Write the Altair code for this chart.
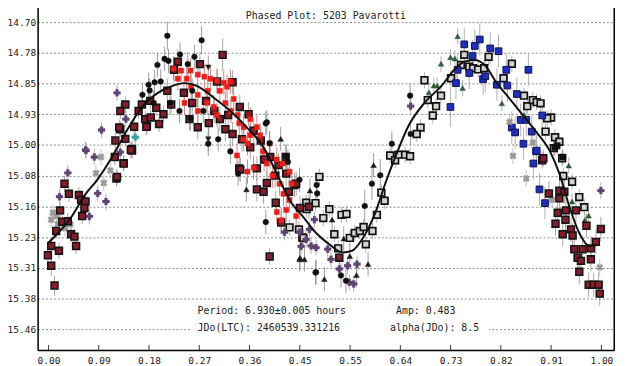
import altair as alt
import pandas as pd

TITLE = "Phased Plot: 5203 Pavarotti"
INFO_LEFT = ["Period: 6.930\u00b10.005 hours", "JDo(LTC): 2460539.331216"]
INFO_RIGHT = ["Amp: 0.483", "alpha(JDo): 8.5"]

X_TICKS = [0.0, 0.0909, 0.1818, 0.2727, 0.3636, 0.4545, 0.5455, 0.6364, 0.7273, 0.8182, 0.9091, 1.0]
Y_TICKS = [14.70, 14.776, 14.852, 14.928, 15.004, 15.080, 15.156, 15.232, 15.308, 15.384, 15.460]

# (phase, magnitude, error)
dark_red_sq = [
    (0.029, 15.100, 0.02), (0.037, 15.125, 0.02), (0.055, 15.128, 0.02), (0.059, 15.140, 0.02),
    (0.067, 15.144, 0.02), (0.065, 15.160, 0.02), (0.021, 15.166, 0.02), (0.061, 15.180, 0.02),
    (0.025, 15.194, 0.02), (0.035, 15.193, 0.02), (0.014, 15.217, 0.02), (0.041, 15.225, 0.02),
    (0.047, 15.231, 0.02), (0.050, 15.254, 0.02), (0.005, 15.254, 0.02), (0.019, 15.266, 0.02),
    (-0.001, 15.277, 0.02), (0.005, 15.303, 0.025), (0.011, 15.352, 0.025), (0.136, 15.049, 0.02),
    (0.123, 15.087, 0.02), (0.151, 15.018, 0.02), (0.120, 15.034, 0.02), (0.139, 14.904, 0.02),
    (0.130, 14.920, 0.02), (0.169, 14.904, 0.02), (0.184, 14.895, 0.02), (0.175, 14.940, 0.02),
    (0.178, 14.957, 0.02), (0.130, 14.965, 0.02), (0.139, 14.989, 0.02), (0.151, 15.014, 0.02),
    (0.121, 14.993, 0.02), (0.315, 14.781, 0.04), (0.234, 14.798, 0.03), (0.274, 14.804, 0.03),
    (0.227, 14.818, 0.03), (0.333, 14.849, 0.03), (0.305, 14.847, 0.03), (0.163, 14.920, 0.02),
    (0.195, 14.912, 0.02), (0.185, 14.936, 0.02), (0.208, 14.928, 0.02), (0.222, 14.904, 0.02),
    (0.200, 14.952, 0.02), (0.177, 14.959, 0.02), (0.155, 14.959, 0.02), (0.128, 14.961, 0.02),
    (0.149, 15.016, 0.02), (0.136, 15.050, 0.02), (0.124, 15.083, 0.02),
    (0.320, 14.965, 0.03), (0.333, 14.977, 0.03), (0.346, 14.910, 0.03), (0.362, 14.928, 0.03),
    (0.371, 14.969, 0.03), (0.384, 14.993, 0.03), (0.401, 15.034, 0.03), (0.416, 15.054, 0.03),
    (0.429, 15.034, 0.03), (0.345, 15.062, 0.03), (0.377, 15.062, 0.03), (0.430, 15.075, 0.03),
    (0.347, 15.065, 0.03), (0.377, 15.114, 0.03), (0.395, 15.098, 0.03), (0.445, 15.103, 0.03),
    (0.389, 15.120, 0.03), (0.411, 15.147, 0.03), (0.421, 15.196, 0.03), (0.448, 15.100, 0.03),
    (0.471, 15.157, 0.03), (0.400, 15.280, 0.02), (0.526, 15.283, 0.02),
    (0.215, 14.870, 0.03), (0.245, 14.875, 0.03), (0.260, 14.900, 0.03), (0.285, 14.895, 0.03),
    (0.300, 14.920, 0.03), (0.255, 14.940, 0.03), (0.270, 14.960, 0.03), (0.290, 14.950, 0.03),
    (0.310, 14.940, 0.03), (0.325, 14.930, 0.03), (0.350, 14.990, 0.03), (0.365, 15.010, 0.03),
    (0.390, 15.040, 0.03), (0.410, 15.080, 0.03), (0.435, 15.120, 0.03), (0.455, 15.160, 0.03),
    (0.893, 15.042, 0.02), (0.895, 15.037, 0.02), (0.905, 15.124, 0.03), (0.924, 15.117, 0.03),
    (0.933, 15.120, 0.03), (0.924, 15.136, 0.03), (0.954, 15.166, 0.03), (0.936, 15.166, 0.03),
    (0.921, 15.172, 0.03), (0.917, 15.199, 0.03), (0.935, 15.189, 0.03), (0.945, 15.213, 0.03),
    (0.930, 15.225, 0.03), (0.948, 15.228, 0.03), (0.973, 15.204, 0.03), (0.999, 15.212, 0.03),
    (0.990, 15.244, 0.03), (0.951, 15.262, 0.03), (0.966, 15.262, 0.03), (0.957, 15.283, 0.03),
    (0.963, 15.291, 0.03), (0.981, 15.287, 0.03), (0.960, 15.318, 0.03), (0.977, 15.350, 0.03),
    (0.986, 15.350, 0.03), (0.995, 15.350, 0.03), (0.997, 15.372, 0.03), (0.981, 15.260, 0.03),
]

bright_red = [
    (0.226, 14.815, 0.03), (0.240, 14.820, 0.03), (0.257, 14.820, 0.03), (0.270, 14.830, 0.03),
    (0.282, 14.835, 0.03), (0.293, 14.840, 0.03), (0.305, 14.845, 0.03), (0.317, 14.850, 0.03),
    (0.329, 14.847, 0.03), (0.323, 14.860, 0.03), (0.246, 14.900, 0.03), (0.258, 14.860, 0.03),
    (0.270, 14.880, 0.03), (0.287, 14.900, 0.03), (0.299, 14.910, 0.03), (0.305, 14.930, 0.03),
    (0.330, 14.920, 0.03), (0.342, 14.930, 0.03), (0.353, 14.960, 0.03), (0.365, 14.940, 0.03),
    (0.377, 14.960, 0.03), (0.383, 14.980, 0.03), (0.365, 14.980, 0.03), (0.353, 14.990, 0.03),
    (0.341, 15.030, 0.03), (0.388, 15.020, 0.03), (0.400, 15.000, 0.03), (0.413, 15.040, 0.03),
    (0.424, 15.050, 0.03), (0.436, 15.070, 0.03), (0.371, 15.060, 0.03), (0.360, 15.070, 0.03),
    (0.270, 14.920, 0.03), (0.288, 14.870, 0.03), (0.234, 14.840, 0.03), (0.250, 14.840, 0.03),
    (0.413, 15.170, 0.03), (0.421, 15.190, 0.03), (0.430, 15.165, 0.03), (0.436, 15.140, 0.03),
    (0.425, 15.125, 0.03), (0.448, 15.180, 0.03), (0.418, 15.100, 0.03), (0.395, 15.050, 0.03),
    (0.405, 15.080, 0.03), (0.440, 15.100, 0.03), (0.310, 14.870, 0.03), (0.320, 14.900, 0.03),
    (0.335, 14.890, 0.03), (0.345, 14.950, 0.03), (0.360, 15.000, 0.03),
]

black_circle = [
    (0.215, 14.734, 0.035), (0.277, 14.745, 0.035), (0.197, 14.806, 0.03), (0.238, 14.780, 0.03),
    (0.252, 14.804, 0.03), (0.264, 14.786, 0.03), (0.192, 14.849, 0.03), (0.183, 14.869, 0.03),
    (0.203, 14.847, 0.03), (0.237, 14.920, 0.03), (0.257, 14.938, 0.03), (0.289, 15.001, 0.03),
    (0.307, 14.990, 0.03), (0.329, 15.020, 0.03), (0.343, 15.075, 0.03), (0.393, 14.951, 0.03),
    (0.210, 14.791, 0.03), (0.217, 14.796, 0.03), (0.181, 14.855, 0.03), (0.393, 15.195, 0.03),
    (0.483, 15.320, 0.03), (0.485, 15.103, 0.03), (0.486, 15.124, 0.03), (0.395, 14.948, 0.03),
    (0.400, 15.000, 0.03), (0.430, 15.033, 0.03), (0.433, 15.046, 0.03), (0.454, 15.090, 0.03),
    (0.585, 15.100, 0.04), (0.572, 15.155, 0.04), (0.600, 15.079, 0.04), (0.484, 15.319, 0.03),
    (0.529, 15.327, 0.03), (0.538, 15.340, 0.03), (0.654, 14.882, 0.03), (0.655, 14.977, 0.03),
    (0.621, 15.001, 0.03), (0.170, 14.880, 0.03), (0.190, 14.900, 0.03), (0.260, 14.870, 0.03),
    (0.280, 14.920, 0.03), (0.220, 14.900, 0.03),
]

black_triangle = [
    (0.420, 14.989, 0.03), (0.473, 15.117, 0.03), (0.358, 15.114, 0.03), (0.454, 15.287, 0.03),
    (0.463, 15.287, 0.03), (0.588, 15.054, 0.03), (0.578, 15.299, 0.03), (0.513, 15.189, 0.03),
    (0.534, 15.236, 0.03), (0.499, 15.336, 0.03), (0.557, 15.326, 0.03), (0.545, 15.279, 0.03),
    (0.455, 15.283, 0.03),
]

black_tri_down = [(0.289, 14.812, 0.03), (0.289, 14.990, 0.03)]

purple_cross = [
    (0.124, 14.875, 0.02), (0.096, 14.967, 0.02), (0.067, 15.016, 0.02), (0.035, 15.073, 0.02),
    (0.020, 15.132, 0.02), (0.089, 15.124, 0.02), (0.104, 15.144, 0.02), (0.074, 15.181, 0.02),
    (0.083, 15.034, 0.02), (0.068, 15.018, 0.02), (0.130, 15.022, 0.02), (0.427, 15.220, 0.02),
    (0.457, 15.255, 0.02), (0.466, 15.238, 0.02), (0.472, 15.213, 0.02), (0.484, 15.258, 0.02),
    (0.505, 15.262, 0.02), (0.511, 15.287, 0.02), (0.541, 15.303, 0.02), (0.544, 15.344, 0.02),
    (0.552, 15.348, 0.02), (0.558, 15.299, 0.02), (0.526, 15.311, 0.02), (0.454, 15.220, 0.02),
    (0.475, 15.254, 0.02), (0.481, 15.189, 0.02), (0.999, 15.117, 0.02), (0.655, 14.908, 0.02),
    (0.140, 14.940, 0.02),
]

grey_star = [
    (0.005, 15.189, 0.02), (0.008, 15.172, 0.02), (0.100, 15.098, 0.02), (0.086, 15.074, 0.02),
    (0.095, 15.034, 0.02), (0.017, 15.200, 0.02), (0.112, 15.067, 0.02), (0.840, 15.031, 0.02),
    (0.834, 14.947, 0.02), (0.876, 14.998, 0.02), (0.864, 15.087, 0.02), (0.911, 15.140, 0.02),
    (0.997, 15.307, 0.02), (0.030, 15.210, 0.02), (0.040, 15.200, 0.02), (0.015, 15.180, 0.02),
]

teal_cross = [(0.157, 14.985, 0.02)]

open_square = [
    (0.436, 15.208, 0.02), (0.453, 15.213, 0.02), (0.459, 15.233, 0.02), (0.466, 15.147, 0.02),
    (0.490, 15.083, 0.02), (0.483, 15.148, 0.02), (0.467, 15.163, 0.02), (0.508, 15.163, 0.02),
    (0.530, 15.177, 0.02), (0.539, 15.175, 0.02), (0.497, 15.185, 0.02), (0.461, 15.234, 0.02),
    (0.517, 15.225, 0.02), (0.524, 15.260, 0.02), (0.545, 15.234, 0.02), (0.554, 15.222, 0.02),
    (0.563, 15.217, 0.02), (0.570, 15.207, 0.02), (0.586, 15.217, 0.02), (0.574, 15.250, 0.02),
    (0.594, 15.177, 0.02), (0.608, 15.142, 0.02), (0.602, 15.122, 0.02), (0.618, 15.030, 0.02),
    (0.627, 15.042, 0.02), (0.633, 15.028, 0.02), (0.645, 15.028, 0.02), (0.654, 15.032, 0.02),
    (0.680, 14.844, 0.02), (0.728, 14.839, 0.02), (0.710, 14.882, 0.02), (0.701, 14.908, 0.02),
    (0.695, 14.931, 0.02), (0.686, 14.893, 0.02), (0.673, 14.961, 0.02), (0.666, 14.977, 0.02),
    (0.752, 14.781, 0.02), (0.761, 14.810, 0.02), (0.768, 14.814, 0.02), (0.777, 14.817, 0.02),
    (0.788, 14.814, 0.02), (0.796, 14.786, 0.02), (0.746, 14.806, 0.02), (0.838, 14.803, 0.02),
    (0.823, 14.839, 0.02), (0.860, 14.882, 0.02), (0.866, 14.908, 0.02), (0.876, 14.893, 0.02),
    (0.883, 14.898, 0.02), (0.890, 14.901, 0.02), (0.909, 14.936, 0.02), (0.902, 14.938, 0.02),
    (0.899, 14.971, 0.02), (0.916, 14.985, 0.02), (0.924, 14.996, 0.02), (0.914, 15.012, 0.02),
    (0.929, 15.037, 0.02), (0.931, 15.081, 0.02), (0.947, 15.095, 0.02), (0.960, 15.133, 0.02),
    (0.969, 15.158, 0.02),
]

black_square = [(0.916, 15.010, 0.02), (0.920, 15.006, 0.02), (0.930, 15.034, 0.02)]

blue_square = [
    (0.752, 14.755, 0.04), (0.771, 14.759, 0.04), (0.780, 14.743, 0.04), (0.799, 14.765, 0.04),
    (0.767, 14.784, 0.04), (0.740, 14.818, 0.04), (0.737, 14.851, 0.04), (0.727, 14.910, 0.05),
    (0.761, 14.826, 0.04), (0.786, 14.841, 0.04), (0.814, 14.772, 0.04), (0.828, 14.818, 0.04),
    (0.868, 14.818, 0.04), (0.790, 14.834, 0.04), (0.811, 14.855, 0.04), (0.830, 14.857, 0.04),
    (0.847, 14.878, 0.04), (0.893, 14.931, 0.04), (0.854, 14.942, 0.04), (0.864, 14.942, 0.04),
    (0.838, 14.961, 0.04), (0.844, 14.973, 0.04), (0.874, 14.971, 0.04), (0.859, 15.001, 0.04),
    (0.882, 15.020, 0.04), (0.877, 15.050, 0.04), (0.888, 15.114, 0.04), (0.898, 15.148, 0.04),
    (0.883, 15.018, 0.04),
]

green_triangle = [
    (0.740, 14.735, 0.02), (0.727, 14.787, 0.02), (0.735, 14.790, 0.02), (0.710, 14.803, 0.02),
    (0.697, 14.857, 0.02), (0.703, 14.857, 0.02), (0.749, 14.863, 0.02), (0.688, 14.874, 0.02),
    (0.820, 14.901, 0.02), (0.941, 15.055, 0.02), (0.977, 15.179, 0.02), (0.947, 15.144, 0.02),
    (0.970, 15.190, 0.02), (0.860, 14.930, 0.02),
]

fit_phase = [0.000, 0.038, 0.068, 0.088, 0.115, 0.145, 0.168, 0.198, 0.222, 0.246, 0.270, 0.299,
             0.329, 0.359, 0.389, 0.413, 0.436, 0.460, 0.484, 0.508, 0.532, 0.549, 0.567, 0.591,
             0.609, 0.627, 0.651, 0.680, 0.710, 0.734, 0.752, 0.770, 0.788, 0.811, 0.835, 0.859,
             0.883, 0.907, 0.924, 0.942, 0.960, 0.978, 0.993]
fit_mag = [15.246, 15.189, 15.124, 15.091, 15.034, 14.961, 14.912, 14.875, 14.859, 14.851, 14.859, 14.887,
           14.920, 14.961, 15.010, 15.075, 15.140, 15.181, 15.222, 15.250, 15.270, 15.266, 15.238, 15.172,
           15.100, 15.035, 14.957, 14.900, 14.859, 14.818, 14.798, 14.794, 14.805, 14.851, 14.891, 14.932,
           14.973, 15.020, 15.075, 15.156, 15.222, 15.254, 15.252]

W, H = 584, 350
FONT = "DejaVu Sans Mono"

xs = alt.Scale(domain=[-0.0196, 1.0232], nice=False, zero=False)
ys = alt.Scale(domain=[14.656, 15.5113], nice=False, zero=False, reverse=True)

x_axis = alt.Axis(values=X_TICKS, format=".2f", ticks=False, grid=False, labelPadding=6,
                  labelFont=FONT, labelFontSize=9.6, labelColor="#222", labelFlush=False,
                  domainColor="#000", domainWidth=1.5, title=None)
y_axis = alt.Axis(values=Y_TICKS, format=".2f", grid=True, gridDash=[2, 2], gridColor="#8a8a8a",
                  gridWidth=1, ticks=False, labelPadding=2,
                  labelFont=FONT, labelFontSize=9.6, labelColor="#222",
                  domainColor="#000", domainWidth=1.5, title=None)


def X(f):
    return alt.X(f, type="quantitative", scale=xs, axis=x_axis)


def Y(f):
    return alt.Y(f, type="quantitative", scale=ys, axis=y_axis)


def frame(rows):
    df = pd.DataFrame(rows, columns=["phase", "mag", "err"])
    df["lo"] = df["mag"] - df["err"]
    df["hi"] = df["mag"] + df["err"]
    return df


series = [
    (open_square, dict(shape="square", fill="#d4d4d4", stroke="#111", strokeWidth=1.7, size=46), "#a8a8a8"),
    (blue_square, dict(shape="square", fill="#1f2fb8", stroke="#101050", strokeWidth=1, size=46), "#a8a8a8"),
    (green_triangle, dict(shape="triangle-up", fill="#2f5a3c", stroke="#2f5a3c", strokeWidth=0.5, size=32), "#a8a8a8"),
    (purple_cross, dict(shape="cross", fill="#5e4470", stroke="#5e4470", strokeWidth=0.3, size=50), "#a8a8a8"),
    (grey_star, dict(shape="cross", fill="#9a9a9a", stroke="#9a9a9a", strokeWidth=0.3, size=50, angle=45), "#b8b8b8"),
    (teal_cross, dict(shape="cross", fill="#3aa0a0", stroke="#3aa0a0", strokeWidth=0.3, size=50), "#a8a8a8"),
    (dark_red_sq, dict(shape="square", fill="#861d2b", stroke="#151515", strokeWidth=1.6, size=48), "#a89898"),
    (bright_red, dict(shape="square", fill="#e8211c", stroke="#e8211c", strokeWidth=0.5, size=26), "#cc7a7a"),
    (black_circle, dict(shape="circle", fill="#111", stroke="#111", strokeWidth=0.5, size=32), "#909090"),
    (black_square, dict(shape="square", fill="#111", stroke="#111", strokeWidth=0.5, size=38), "#909090"),
    (black_triangle, dict(shape="triangle-up", fill="#1a1a1a", stroke="#1a1a1a", strokeWidth=0.5, size=32), "#909090"),
    (black_tri_down, dict(shape="triangle-down", fill="#1a1a1a", stroke="#1a1a1a", strokeWidth=0.5, size=32), "#909090"),
]

layers = []
# error bars first
for rows, style, ecol in series:
    df = frame(rows)
    layers.append(alt.Chart(df).mark_rule(color=ecol, strokeWidth=1, opacity=0.9).encode(
        x=X("phase"), y=Y("lo"), y2=alt.Y2("hi")))
for rows, style, ecol in series:
    df = frame(rows)
    layers.append(alt.Chart(df).mark_point(filled=True, opacity=1, **style).encode(
        x=X("phase"), y=Y("mag")))

fit_df = pd.DataFrame({"phase": fit_phase, "mag": fit_mag})
layers.append(alt.Chart(fit_df).mark_line(color="#111", strokeWidth=2, interpolate="monotone").encode(
    x=X("phase"), y=Y("mag")))

# inward ticks on x axis
tick_df = pd.DataFrame({"t": X_TICKS})
layers.append(alt.Chart(tick_df).mark_rule(color="#333", strokeWidth=1).encode(
    x=X("t"), y=alt.value(H - 5), y2=alt.value(H)))

# right frame line
layers.append(alt.Chart(pd.DataFrame({"a": [0]})).mark_rule(color="#000", strokeWidth=1.5).encode(
    x=alt.value(W), y=alt.value(0), y2=alt.value(H)))

# white box behind annotation text
layers.append(alt.Chart(pd.DataFrame({"a": [0]})).mark_rect(color="white").encode(
    x=alt.value(155), x2=alt.value(457), y=alt.value(318), y2=alt.value(338)))

txt_left = pd.DataFrame({"s": INFO_LEFT, "yy": [311, 328]})
layers.append(alt.Chart(txt_left).mark_text(font=FONT, fontSize=10, align="left", baseline="middle",
                                            color="#222").encode(
    x=alt.value(162), y=alt.Y("yy:Q", scale=None), text="s:N"))
txt_right = pd.DataFrame({"s": INFO_RIGHT, "xx": [363, 357], "yy": [311, 328]})
layers.append(alt.Chart(txt_right).mark_text(font=FONT, fontSize=10, align="left", baseline="middle",
                                             color="#222").encode(
    x=alt.X("xx:Q", scale=None), y=alt.Y("yy:Q", scale=None), text="s:N"))

title_df = pd.DataFrame({"s": [TITLE]})
layers.append(alt.Chart(title_df).mark_text(font=FONT, fontSize=10, align="center", baseline="middle",
                                            color="#222").encode(
    x=alt.value(292), y=alt.value(12), text="s:N"))

chart = alt.layer(*layers).properties(
    width=W, height=H,
    autosize=alt.AutoSizeParams(type="none"),
    padding={"left": 30, "top": -6, "right": 18, "bottom": 14},
).configure_view(stroke=None).configure(background="white")

chart.save("out.html", embed_options={"renderer": "svg", "actions": False})
